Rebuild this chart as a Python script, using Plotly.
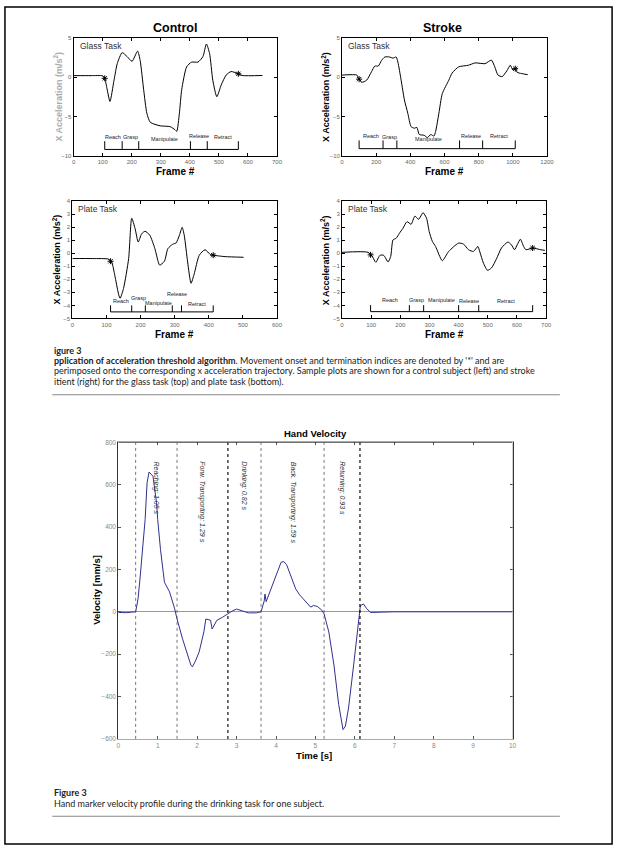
import numpy as np
import plotly.graph_objects as go

# ---- data ----
phase_names = ["Reach", "Grasp", "Manipulate", "Release", "Retract"]

# control subject, glass task (frame #, x acceleration m/s^2)
cg_frame = [0, 60, 100, 107, 115, 125, 139, 150, 167, 184, 201, 220, 229, 241, 252, 264,
            298, 332, 349, 355, 364, 372, 389, 406, 428, 445, 457, 468, 479, 493, 508, 525,
            542, 568, 580, 650]
cg_acc = [0.18, 0.18, 0.15, -0.16, -1.5, -3.1, -0.4, 1.7, 3.1, 2.6, 2.0, 3.3, 2.1, -1.6, -4.6, -5.75,
          -6.2, -6.3, -6.7, -6.9, -4.6, -1.6, 1.3, 1.9, 1.9, 2.6, 4.2, 3.0, -0.4, -2.5, -1.0, 0.25,
          0.7, 0.4, 0.2, 0.2]
cg_phase = [107, 167, 224, 402, 460, 567]

# stroke subject, glass task
sg_frame = [0, 87, 96, 115, 144, 173, 192, 212, 231, 250, 279, 298, 317, 327, 346, 365, 385,
            404, 423, 438, 452, 481, 500, 519, 538, 548, 567, 587, 625, 644, 683, 740, 779,
            837, 856, 875, 894, 913, 937, 965, 985, 1000, 1012, 1025, 1050, 1087]
sg_acc = [0.25, 0.25, -0.16, -0.67, -0.4, 0.7, 1.4, 1.4, 2.1, 2.55, 2.55, 2.4, 2.55, 1.9, -0.4, -2.9, -4.6,
          -6.3, -6.5, -6.4, -7.3, -7.4, -7.7, -7.3, -7.5, -6.9, -4.6, -2.1, -0.4, 0.5, 1.3, 1.5, 1.8,
          1.7, 1.95, 2.15, 1.3, 0.25, 0.05, 0.8, 1.5, 0.9, 1.15, 0.6, 0.45, 0.3]
sg_phase = [100, 240, 321, 688, 823, 1014]

# control subject, plate task
cp_frame = [0, 60, 107, 116, 126, 136, 140, 150, 165, 174, 184, 193, 203, 213, 227, 242, 256,
            270, 280, 294, 304, 314, 322, 328, 338, 348, 357, 372, 389, 405, 415, 448, 502]
cp_acc = [-0.4, -0.4, -0.45, -0.73, -1.9, -3.2, -3.45, -2.7, -0.4, 2.7, 1.9, 0.87, 1.5, 1.7, 1.4, 0.36, -0.9,
          -0.6, 0.36, 0.7, 0.8, 1.4, 2.0, 1.4, -0.66, -2.3, -1.6, -0.15, 0.28, -0.1, -0.15, -0.25, -0.3]
cp_phase = [112, 174, 214, 293, 320, 413]

# stroke subject, plate task
sp_frame = [0, 90, 105, 116, 130, 143, 158, 167, 175, 186, 197, 209, 223, 237, 250, 263, 278,
            290, 299, 310, 321, 344, 366, 400, 417, 434, 451, 466, 473, 485, 499, 513, 530,
            547, 569, 581, 592, 601, 612, 623, 631, 654, 682, 696]
sp_acc = [0.08, 0.08, -0.28, -0.69, -0.15, -0.15, -0.66, -0.23, 1.04, 1.17, 1.55, 1.93, 2.44, 2.24, 2.87, 2.62, 3.13,
          2.7, 1.68, 0.92, 0.53, -0.56, 0.15, 0.79, 0.71, 0.28, 0.15, 0.53, 0.1, -0.74, -1.3, -1.12, -0.41,
          0.41, 0.87, 0.66, 0.28, 0.66, 1.09, 0.53, 0.28, 0.41, 0.28, 0.23]
sp_phase = [98, 231, 280, 400, 469, 654]

# hand velocity during drinking task (time s, velocity mm/s)
vel_t = [0, 0.2, 0.44, 0.5, 0.55, 0.62, 0.68, 0.73, 0.78, 0.88, 0.97, 1.0, 1.07, 1.17, 1.3, 1.43,
         1.49, 1.63, 1.75, 1.84, 1.88, 1.95, 2.05, 2.17, 2.22, 2.3, 2.34, 2.38, 2.5, 2.65, 2.76,
         2.9, 3.0, 3.15, 3.3, 3.5, 3.62, 3.7, 3.72, 3.75, 3.85, 3.93, 4.05, 4.13, 4.2, 4.27, 4.34,
         4.42, 4.5, 4.6, 4.72, 4.8, 4.88, 4.95, 5.05, 5.15, 5.22, 5.34, 5.47, 5.59, 5.65, 5.7,
         5.76, 5.84, 5.97, 6.09, 6.14, 6.22, 6.3, 6.4, 7, 8, 9, 10]
vel_v = [-3, -4, 0, 60, 155, 290, 435, 610, 660, 640, 515, 435, 295, 140, 94, 14,
         -34, -128, -200, -251, -260, -235, -190, -95, -34, -38, -40, -81, -40, -25, -10,
         5, 13, 5, -5, -5, 0, 50, 84, 48, 100, 140, 195, 234, 237, 222, 187,
         150, 108, 80, 53, 35, 22, 30, 25, 10, -10, -95, -251, -438, -510, -556,
         -540, -454, -251, -64, 29, 37, 15, -3, 0, 0, 0, 0]
vel_bounds = [0.44, 1.49, 2.78, 3.62, 5.22, 6.13]
vel_names = ["Reaching", "Forw. Transporting", "Drinking", "Back. Transporting", "Returning"]
vel_dur = [1.05, 1.29, 0.82, 1.59, 0.93]

W, H = 625, 850
AX_FONT = "Liberation Sans, Arial, sans-serif"
CAP_FONT = "Lato, Open Sans, sans-serif"


def fx(x):
    return x / W


def fy(y):
    return 1 - y / H


def label(x, y, text, size, color="black", xanchor="center", angle=0, family=AX_FONT):
    # paper-positioned text, anchors set explicitly (auto anchoring shifts paper text)
    return dict(x=fx(x), y=fy(y), xref="paper", yref="paper", text=text, showarrow=False,
                xanchor=xanchor, yanchor="middle", textangle=angle,
                font=dict(size=size, color=color, family=family))


panels = [
    dict(frame=cg_frame, acc=cg_acc, phase=cg_phase, task="Glass Task",
         box=(72.7, 279, 34, 153), xr=[0, 700], dx=100, yr=[-10, 5], yt=[-10, -5, 0, 5],
         bar=-9.2, tick=1.05, lab=[-7.6, -7.6, -7.9, -7.5, -7.6]),
    dict(frame=sg_frame, acc=sg_acc, phase=sg_phase, task="Glass Task",
         box=(345, 553, 34, 153), xr=[0, 1200], dx=200, yr=[-10, 5], yt=[-10, -5, 0, 5],
         bar=-9.1, tick=1.05, lab=[-7.5, -7.6, -7.9, -7.5, -7.5]),
    dict(frame=cp_frame, acc=cp_acc, phase=cp_phase, task="Plate Task",
         box=(71.4, 279, 199, 317), xr=[0, 600], dx=100, yr=[-5, 4], yt=list(range(-5, 5)),
         bar=-4.5, tick=0.5, lab=[-3.7, -3.4, -3.8, -3.1, -3.9]),
    dict(frame=sp_frame, acc=sp_acc, phase=sp_phase, task="Plate Task",
         box=(345, 552, 199, 317), xr=[0, 700], dx=100, yr=[-5, 4], yt=list(range(-5, 5)),
         bar=-4.48, tick=0.5, lab=[-3.56, -3.56, -3.56, -3.66, -3.66]),
]

fig = go.Figure()
layout = {}
annotations = []
shapes = []

for i, p in enumerate(panels):
    n = i + 1
    sx = "" if n == 1 else str(n)
    xa, ya = "x" + sx, "y" + sx
    fig.add_trace(go.Scatter(
        x=p["frame"], y=p["acc"], mode="lines", xaxis=xa, yaxis=ya,
        line=dict(color="black", width=1, shape="spline", smoothing=0.6),
        hoverinfo="skip", showlegend=False))
    # phase bar
    ph = p["phase"]
    bx, by = [ph[0], ph[-1], None], [p["bar"], p["bar"], None]
    for b in ph:
        bx += [b, b, None]
        by += [p["bar"], p["bar"] + p["tick"], None]
    fig.add_trace(go.Scatter(x=bx, y=by, mode="lines", xaxis=xa, yaxis=ya,
                             line=dict(color="black", width=1), hoverinfo="skip", showlegend=False))
    # onset / termination stars
    sxs = [ph[0], ph[-1]]
    fig.add_trace(go.Scatter(x=sxs, y=np.interp(sxs, p["frame"], p["acc"]), mode="markers",
                             xaxis=xa, yaxis=ya, hoverinfo="skip", showlegend=False,
                             marker=dict(symbol="asterisk-open", size=5, color="black",
                                         line=dict(color="black", width=1))))
    for k, name in enumerate(phase_names):
        annotations.append(dict(x=(ph[k] + ph[k + 1]) / 2, y=p["lab"][k], xref=xa, yref=ya,
                                text=name, showarrow=False, xanchor="center", yanchor="middle",
                                font=dict(size=5.5, color="#222", family=AX_FONT)))
    x0, x1, y0, y1 = p["box"]
    common = dict(showline=True, linecolor="black", linewidth=1, mirror="ticks", ticks="inside",
                  ticklen=3, tickcolor="black", tickfont=dict(size=6, color="#666", family=AX_FONT),
                  showgrid=False, zeroline=False)
    layout["xaxis" + sx] = dict(domain=[fx(x0), fx(x1)], range=p["xr"], dtick=p["dx"], tick0=0,
                                anchor=ya, **common)
    layout["yaxis" + sx] = dict(domain=[fy(y1), fy(y0)], range=p["yr"], tickvals=p["yt"],
                                anchor=xa, **common)
    annotations.append(label(x0 + 4, y0 + 8, p["task"], 8.5, "#333", xanchor="left"))
    annotations.append(label((x0 + x1) / 2, y1 + 16, "<b>Frame #</b>", 10))
    annotations.append(label(x0 - 16 if n in (1, 3) else x0 - 17, (y0 + y1) / 2,
                             "<b>X Acceleration (m/s<sup>2</sup>)</b>", 9,
                             "#aaa" if n == 1 else "black", angle=-90))

annotations.append(label(176, 24, "<b>Control</b>", 12.5))
annotations.append(label(447, 24, "<b>Stroke</b>", 12.5))

# ---- hand velocity chart ----
fig.add_trace(go.Scatter(x=vel_t, y=vel_v, mode="lines", xaxis="x5", yaxis="y5",
                         line=dict(color="#30308f", width=1), hoverinfo="skip", showlegend=False))
vcommon = dict(showline=True, mirror="ticks", ticks="inside", ticklen=3, showgrid=False,
               tickfont=dict(size=6.5, color="#888", family=AX_FONT))
layout["xaxis5"] = dict(domain=[fx(118), fx(518)], range=[0, 10], dtick=1, anchor="y5",
                        linecolor="#aaa", tickcolor="#555", zeroline=False, **vcommon)
layout["yaxis5"] = dict(domain=[fy(741), fy(442)], range=[-600, 800], dtick=200, anchor="x5",
                        linecolor="#333", tickcolor="#555", zeroline=True, zerolinecolor="#999",
                        zerolinewidth=1, **vcommon)
# top border dark, right border light as in the scan
shapes.append(dict(type="line", xref="x5", yref="y5", x0=0, x1=10, y0=800, y1=800,
                   line=dict(color="#222", width=1), layer="above"))
shapes.append(dict(type="line", xref="x5", yref="y5", x0=10, x1=10, y0=-600, y1=800,
                   line=dict(color="#aaa", width=1), layer="above"))
for k, b in enumerate(vel_bounds):
    strong = k in (2, 5)
    shapes.append(dict(type="line", xref="x5", yref="y5", x0=b, x1=b, y0=-600, y1=800,
                       line=dict(color="#111" if strong else "#555", width=1.2 if strong else 0.8, dash="dot")))
for k, name in enumerate(vel_names):
    annotations.append(dict(x=(vel_bounds[k] + vel_bounds[k + 1]) / 2, y=720, xref="x5", yref="y5",
                            text="<i>%s: %.2f s</i>" % (name, vel_dur[k]), textangle=90,
                            xanchor="center", yanchor="top", showarrow=False,
                            font=dict(size=7, color="#333", family=AX_FONT)))
annotations.append(label(318, 433, "<b>Hand Velocity</b>", 9.5))
annotations.append(label(317, 758, "<b>Time [s]</b>", 9.5))
annotations.append(label(96, 591, "<b>Velocity [mm/s]</b>", 9.5, angle=-90))

# ---- page captions ----
cap_lines = [
    ("<b>igure 3</b>", 349),
    ("<b>pplication of acceleration threshold algorithm</b>. Movement onset and termination indices are denoted by '*' and are", 359),
    ("perimposed onto the corresponding x acceleration trajectory. Sample plots are shown for a control subject (left) and stroke", 370),
    ("itient (right) for the glass task (top) and plate task (bottom).", 381),
    ("<b>Figure 3</b>", 795),
    ("Hand marker velocity profile during the drinking task for one subject.", 806),
]
for txt, y in cap_lines:
    annotations.append(label(51, y, txt, 9, "#222", xanchor="left", family=CAP_FONT))
for y in (394, 819):
    shapes.append(dict(type="line", xref="paper", yref="paper", x0=fx(51), x1=fx(566), y0=fy(y), y1=fy(y),
                       line=dict(color="#888", width=1)))
shapes.append(dict(type="rect", xref="paper", yref="paper", x0=fx(3), x1=fx(619), y0=fy(847), y1=fy(3),
                   line=dict(color="black", width=1.5)))

fig.update_layout(width=W, height=H, margin=dict(l=0, r=0, t=0, b=0),
                  paper_bgcolor="white", plot_bgcolor="white", showlegend=False,
                  annotations=annotations, shapes=shapes, **layout)
fig.write_html("out.html", config={"displayModeBar": False},
               post_script="document.body.style.margin='0';document.body.style.overflow='hidden';")
